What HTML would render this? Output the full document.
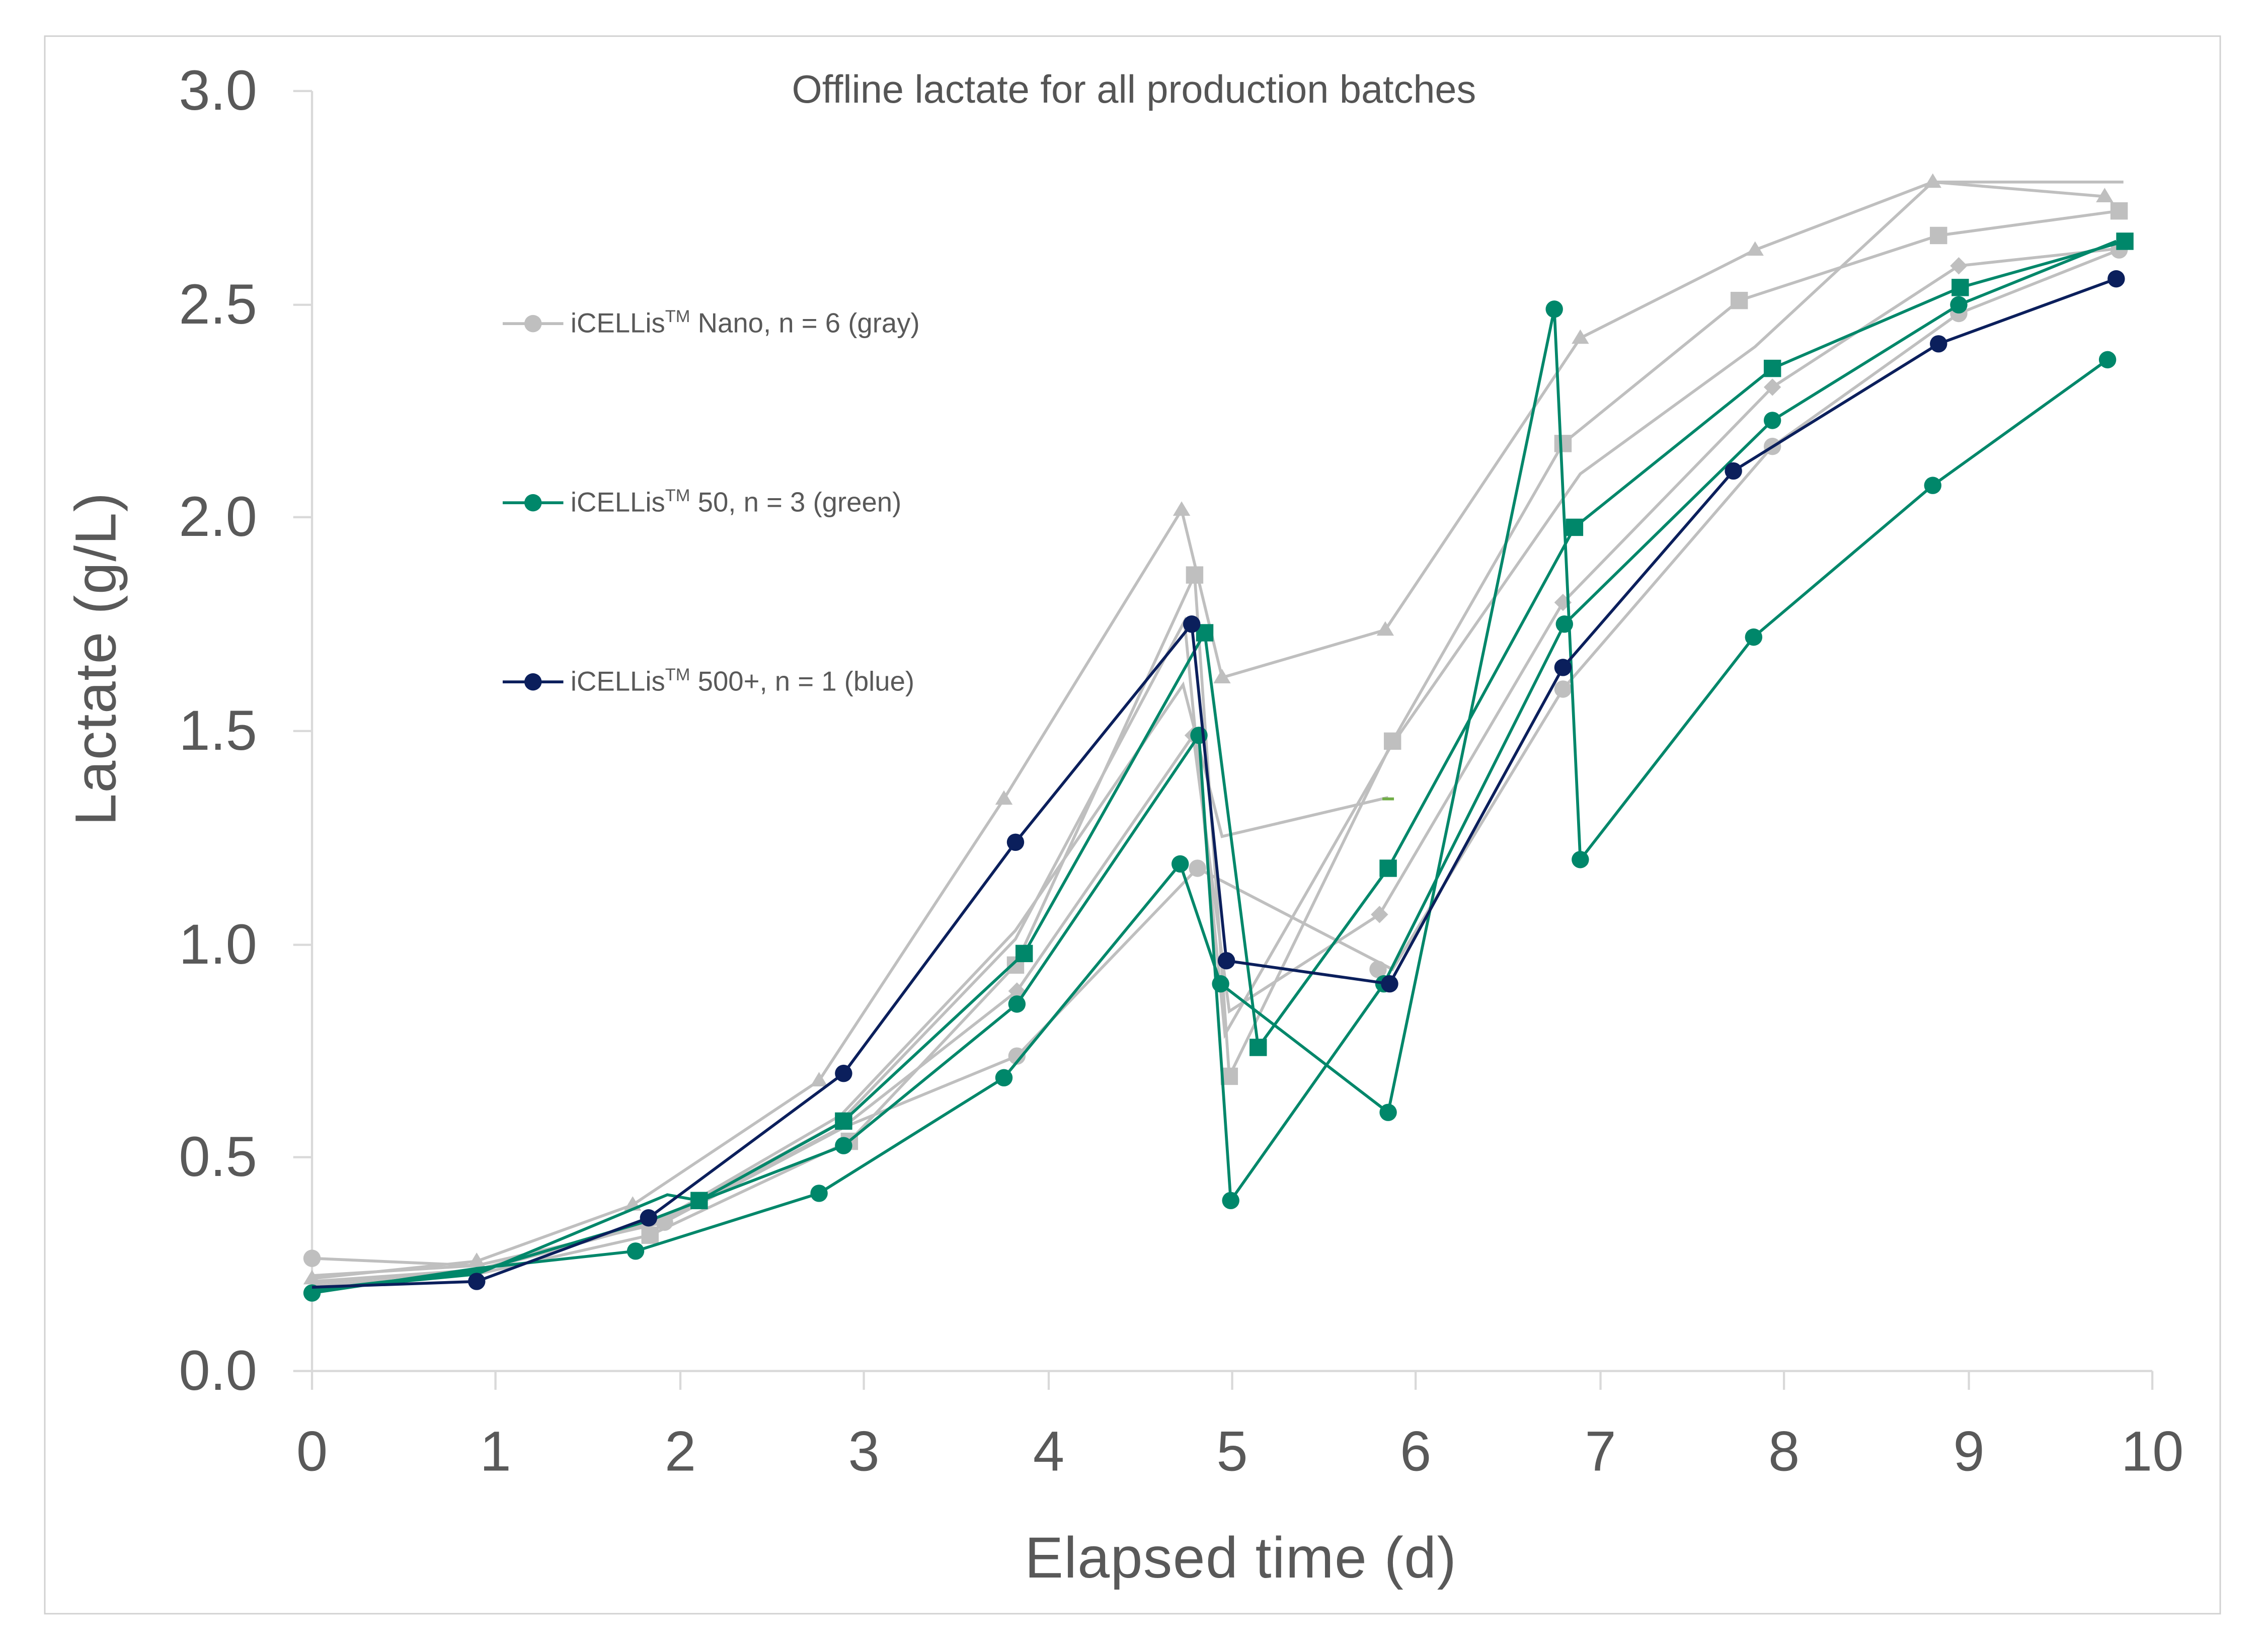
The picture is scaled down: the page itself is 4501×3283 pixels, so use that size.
<!DOCTYPE html>
<html><head><meta charset="utf-8"><style>
html,body{margin:0;padding:0;background:#fff;width:4501px;height:3283px;overflow:hidden}
svg{display:block}
text{font-family:"Liberation Sans",sans-serif}
</style></head><body>
<svg width="4501" height="3283" viewBox="0 0 1568 1143.5" preserveAspectRatio="none" xmlns="http://www.w3.org/2000/svg">
<rect x="31" y="25" width="1506" height="1092" fill="#fff" stroke="#d0d0d0" stroke-width="1"/>
<text x="785" y="71" font-size="27" fill="#555" text-anchor="middle" letter-spacing="0">Offline lactate for all production batches</text>
<g stroke="#d9d9d9" stroke-width="1.5" fill="none">
<line x1="216" y1="63" x2="216" y2="949"/>
<line x1="216" y1="949" x2="1490" y2="949"/>
<line x1="203" y1="63" x2="216" y2="63"/><line x1="203" y1="211" x2="216" y2="211"/><line x1="203" y1="358" x2="216" y2="358"/><line x1="203" y1="506" x2="216" y2="506"/><line x1="203" y1="654" x2="216" y2="654"/><line x1="203" y1="801" x2="216" y2="801"/><line x1="203" y1="949" x2="216" y2="949"/>
<line x1="216" y1="949" x2="216" y2="962"/><line x1="343" y1="949" x2="343" y2="962"/><line x1="471" y1="949" x2="471" y2="962"/><line x1="598" y1="949" x2="598" y2="962"/><line x1="726" y1="949" x2="726" y2="962"/><line x1="853" y1="949" x2="853" y2="962"/><line x1="980" y1="949" x2="980" y2="962"/><line x1="1108" y1="949" x2="1108" y2="962"/><line x1="1235" y1="949" x2="1235" y2="962"/><line x1="1363" y1="949" x2="1363" y2="962"/><line x1="1490" y1="949" x2="1490" y2="962"/>
</g>
<g font-size="39" fill="#595959" text-anchor="end">
<text x="178" y="76">3.0</text><text x="178" y="224">2.5</text><text x="178" y="371">2.0</text><text x="178" y="519">1.5</text><text x="178" y="667">1.0</text><text x="178" y="814">0.5</text><text x="178" y="962">0.0</text>
</g>
<g font-size="39" fill="#595959" text-anchor="middle">
<text x="216" y="1018">0</text><text x="343" y="1018">1</text><text x="471" y="1018">2</text><text x="598" y="1018">3</text><text x="726" y="1018">4</text><text x="853" y="1018">5</text><text x="980" y="1018">6</text><text x="1108" y="1018">7</text><text x="1235" y="1018">8</text><text x="1363" y="1018">9</text><text x="1490" y="1018">10</text>
</g>
<text x="859" y="1092" font-size="40" fill="#595959" text-anchor="middle" letter-spacing="0.5">Elapsed time (d)</text>
<text transform="translate(80,456) rotate(-90)" font-size="40" fill="#595959" text-anchor="middle" letter-spacing="0.5">Lactate (g/L)</text>

<g fill="none" stroke="#bfbfbf" stroke-width="2">
<polyline points="216,885 330,873 438,834 567,748 695,553 818,353 846,469 959,436 1094,234 1215,173 1338,126 1457,136"/>
<polyline points="216,890 330,882 450,855 588,790 703,668 827,398 851,745 964,513 1082,307 1204,208 1342,163 1467,146"/>
<polyline points="216,871 330,876 460,846 585,780 704,731 829,601 964,671 1082,477 1227,309 1356,217 1467,173"/>
<polyline points="216,883 330,876 455,847 585,779 704,686 826,509 851,700 955,633 1082,417 1227,268 1356,184 1467,172"/>
<polyline points="216,887 330,879 460,843 582,772 703,644 819,474 846,579 961,552"/>
<polyline points="216,888 330,880 455,846 580,778 703,650 820,430 848,716 962,518 1094,328 1215,240 1338,126 1470,126"/>
</g>
<g fill="#bfbfbf">
<path d="M216,879 l6,10 h-12z M330,867 l6,10 h-12z M438,828 l6,10 h-12z M567,742 l6,10 h-12z M695,547 l6,10 h-12z M818,347 l6,10 h-12z M846,463 l6,10 h-12z M959,430 l6,10 h-12z M1094,228 l6,10 h-12z M1215,167 l6,10 h-12z M1338,120 l6,10 h-12z M1457,130 l6,10 h-12z"/>
<rect x="444" y="849" width="12" height="12"/><rect x="582" y="784" width="12" height="12"/><rect x="697" y="662" width="12" height="12"/><rect x="821" y="392" width="12" height="12"/><rect x="845" y="739" width="12" height="12"/><rect x="958" y="507" width="12" height="12"/><rect x="1076" y="301" width="12" height="12"/><rect x="1198" y="202" width="12" height="12"/><rect x="1336" y="157" width="12" height="12"/><rect x="1461" y="140" width="12" height="12"/>
<circle cx="216" cy="871" r="6"/><circle cx="460" cy="846" r="6"/><circle cx="704" cy="731" r="6"/><circle cx="829" cy="601" r="6"/><circle cx="954" cy="671" r="6"/><circle cx="1082" cy="477" r="6"/><circle cx="1227" cy="309" r="6"/><circle cx="1356" cy="217" r="6"/><circle cx="1467" cy="173" r="6"/>
<path d="M704,680 l6,6 -6,6 -6,-6z M826,503 l6,6 -6,6 -6,-6z M955,627 l6,6 -6,6 -6,-6z M1082,411 l6,6 -6,6 -6,-6z M1227,262 l6,6 -6,6 -6,-6z M1356,178 l6,6 -6,6 -6,-6z"/>
</g>
<line x1="957" y1="553" x2="965" y2="553" stroke="#70ad47" stroke-width="2"/>

<g fill="none" stroke="#00876a" stroke-width="2">
<polyline points="216,895 330,878 440,866 567,826 695,746 817,598 845,681 961,770 1076,214 1094,595 1214,441 1338,336 1459,249"/>
<polyline points="216,893 330,880 449,845 584,793 704,695 830,509 852,831 958,681 1083,432 1227,291 1356,211 1465,167"/>
<polyline points="216,893 330,882 462,827 484,831 584,776 709,660 834,438 871,725 961,601 1090,365 1227,255 1357,199 1471,167"/>
</g>
<g fill="#00876a">
<circle cx="216" cy="895" r="6"/><circle cx="440" cy="866" r="6"/><circle cx="567" cy="826" r="6"/><circle cx="695" cy="746" r="6"/><circle cx="817" cy="598" r="6"/><circle cx="845" cy="681" r="6"/><circle cx="961" cy="770" r="6"/><circle cx="1076" cy="214" r="6"/><circle cx="1094" cy="595" r="6"/><circle cx="1214" cy="441" r="6"/><circle cx="1338" cy="336" r="6"/><circle cx="1459" cy="249" r="6"/>
<circle cx="584" cy="793" r="6"/><circle cx="704" cy="695" r="6"/><circle cx="830" cy="509" r="6"/><circle cx="852" cy="831" r="6"/><circle cx="958" cy="681" r="6"/><circle cx="1083" cy="432" r="6"/><circle cx="1227" cy="291" r="6"/><circle cx="1356" cy="211" r="6"/>
<rect x="478" y="825" width="12" height="12"/><rect x="578" y="770" width="12" height="12"/><rect x="703" y="654" width="12" height="12"/><rect x="828" y="432" width="12" height="12"/><rect x="865" y="719" width="12" height="12"/><rect x="955" y="595" width="12" height="12"/><rect x="1084" y="359" width="12" height="12"/><rect x="1221" y="249" width="12" height="12"/><rect x="1351" y="193" width="12" height="12"/><rect x="1465" y="161" width="12" height="12"/>
</g>

<polyline fill="none" stroke="#0b1f5c" stroke-width="2" points="216,891 330,887 449,843 584,743 703,583 825,432 849,665 962,681 1082,462 1200,326 1342,238 1465,193"/>
<g fill="#0b1f5c">
<circle cx="330" cy="887" r="6"/><circle cx="449" cy="843" r="6"/><circle cx="584" cy="743" r="6"/><circle cx="703" cy="583" r="6"/><circle cx="825" cy="432" r="6"/><circle cx="849" cy="665" r="6"/><circle cx="962" cy="681" r="6"/><circle cx="1082" cy="462" r="6"/><circle cx="1200" cy="326" r="6"/><circle cx="1342" cy="238" r="6"/><circle cx="1465" cy="193" r="6"/>
</g>

<line x1="348" y1="224" x2="390" y2="224" stroke="#bfbfbf" stroke-width="2"/><circle cx="369" cy="224" r="6" fill="#bfbfbf"/>
<text x="395" y="230" font-size="19" fill="#595959">iCELLis<tspan font-size="12" dy="-7">TM</tspan><tspan dy="7"> Nano, n = 6 (gray)</tspan></text>
<line x1="348" y1="348" x2="390" y2="348" stroke="#00876a" stroke-width="2"/><circle cx="369" cy="348" r="6" fill="#00876a"/>
<text x="395" y="354" font-size="19" fill="#595959">iCELLis<tspan font-size="12" dy="-7">TM</tspan><tspan dy="7"> 50, n = 3 (green)</tspan></text>
<line x1="348" y1="472" x2="390" y2="472" stroke="#0b1f5c" stroke-width="2"/><circle cx="369" cy="472" r="6" fill="#0b1f5c"/>
<text x="395" y="478" font-size="19" fill="#595959">iCELLis<tspan font-size="12" dy="-7">TM</tspan><tspan dy="7"> 500+, n = 1 (blue)</tspan></text>
</svg>
</body></html>
